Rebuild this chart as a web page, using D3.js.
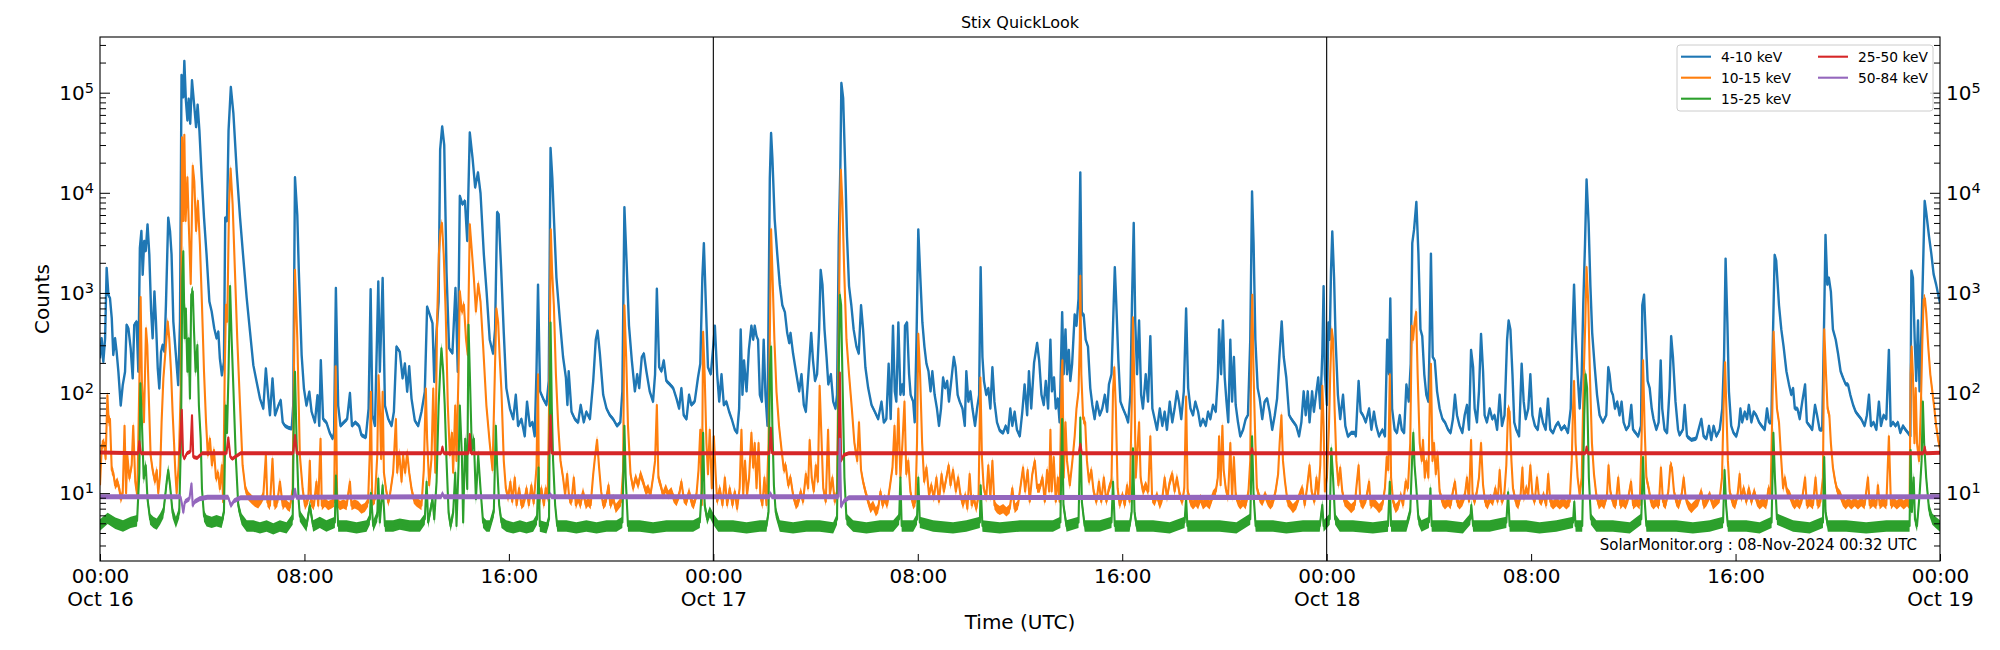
<!DOCTYPE html>
<html>
<head>
<meta charset="utf-8">
<script src="https://cdn.jsdelivr.net/npm/d3@7"></script>
<style>
body { margin: 0; background: #fff; }
text { font-family: "DejaVu Sans", sans-serif; fill: #000; }
</style>
</head>
<body>
<div id="chart"></div>
<script>
// hours since 2024-10-16 00:00 UTC, counts
var cts4to10 = [[0,222],[0.065,352],[0.13,205],[0.2,352],[0.26,1780],[0.33,950],[0.39,890],[0.46,560],[0.52,240],[0.59,352],[0.65,259],[0.72,163],[0.81,75],[0.89,120],[0.98,163],[1.04,480],[1.11,444],[1.2,280],[1.28,140],[1.34,480],[1.43,517],[1.5,163],[1.56,2820],[1.62,4150],[1.67,1520],[1.73,3300],[1.79,2620],[1.86,4840],[1.93,2420],[2.0,653],[2.06,352],[2.13,1036],[2.19,517],[2.26,176],[2.32,111],[2.39,259],[2.45,302],[2.52,259],[2.58,760],[2.67,5650],[2.74,4150],[2.8,2420],[2.87,517],[2.97,240],[3.06,120],[3.13,517],[3.19,150000],[3.26,90000],[3.3,208000],[3.36,84000],[3.42,52800],[3.47,87000],[3.53,48900],[3.6,133000],[3.68,77600],[3.76,45300],[3.82,76000],[3.89,41900],[3.98,14300],[4.07,5650],[4.17,2420],[4.28,820],[4.37,653],[4.47,444],[4.56,352],[4.63,411],[4.69,222],[4.77,150],[4.85,205],[4.9,5650],[4.97,5230],[5.03,41900],[5.12,114000],[5.22,62000],[5.35,16600],[5.48,5650],[5.61,2200],[5.74,890],[5.87,411],[6.0,190],[6.13,129],[6.26,88],[6.39,70],[6.49,176],[6.59,88],[6.65,60],[6.75,140],[6.85,60],[6.98,75],[7.07,85],[7.15,51],[7.24,47],[7.37,45],[7.5,44],[7.56,75],[7.63,14300],[7.72,6000],[7.78,1650],[7.89,240],[7.98,111],[8.08,75],[8.19,103],[8.28,65],[8.41,51],[8.51,95],[8.58,47],[8.64,213],[8.73,55],[8.86,51],[8.99,40],[9.1,35],[9.16,40],[9.23,1120],[9.32,75],[9.41,47],[9.54,51],[9.67,55],[9.78,100],[9.86,47],[9.99,51],[10.14,47],[10.23,38],[10.4,36],[10.51,70],[10.59,1090],[10.66,60],[10.76,47],[10.89,1300],[10.95,163],[11.06,1410],[11.15,75],[11.28,55],[11.41,47],[11.5,65],[11.6,290],[11.73,259],[11.84,140],[11.93,197],[12.02,103],[12.1,185],[12.19,88],[12.32,53],[12.45,47],[12.58,65],[12.71,103],[12.8,730],[12.91,600],[13.01,500],[13.08,129],[13.17,411],[13.25,820],[13.31,27000],[13.39,46000],[13.47,30000],[13.56,1600],[13.66,280],[13.79,250],[13.91,1120],[14.0,163],[14.08,9300],[14.18,7700],[14.28,8300],[14.37,3300],[14.47,40000],[14.58,22000],[14.68,11300],[14.79,16000],[14.89,9900],[15.02,2420],[15.13,1000],[15.25,341],[15.38,248],[15.46,432],[15.54,6400],[15.6,6100],[15.7,1670],[15.8,399],[15.9,112],[16.04,70],[16.17,55],[16.27,96],[16.36,47],[16.49,55],[16.62,37],[16.71,82],[16.82,47],[16.92,51],[17.01,37],[17.08,165],[17.14,1210],[17.22,104],[17.34,88],[17.47,76],[17.56,132],[17.63,28000],[17.7,14000],[17.77,5000],[17.86,1420],[17.99,550],[18.12,229],[18.23,143],[18.29,76],[18.34,165],[18.45,65],[18.58,55],[18.71,51],[18.81,76],[18.93,51],[19.03,65],[19.17,55],[19.3,132],[19.4,341],[19.47,420],[19.56,248],[19.69,96],[19.82,70],[19.95,60],[20.08,55],[20.23,47],[20.36,51],[20.44,104],[20.52,7200],[20.6,2200],[20.7,470],[20.81,212],[20.93,104],[21.02,154],[21.1,112],[21.2,229],[21.28,248],[21.38,165],[21.51,104],[21.64,82],[21.72,154],[21.79,1100],[21.88,181],[21.97,165],[22.06,212],[22.16,132],[22.3,122],[22.43,112],[22.56,88],[22.66,70],[22.75,112],[22.84,60],[22.95,55],[23.05,96],[23.14,76],[23.27,82],[23.4,143],[23.49,196],[23.57,1420],[23.63,3140],[23.7,880],[23.79,181],[23.9,154],[24.0,300],[24.06,470],[24.15,154],[24.23,82],[24.32,154],[24.41,76],[24.51,82],[24.62,65],[24.72,55],[24.84,43],[24.93,40],[25.01,70],[25.07,432],[25.14,96],[25.2,212],[25.3,104],[25.39,270],[25.49,470],[25.56,341],[25.62,470],[25.69,370],[25.75,341],[25.82,96],[25.9,82],[25.97,341],[26.04,96],[26.12,47],[26.21,14000],[26.26,39600],[26.31,22500],[26.4,5460],[26.5,2470],[26.6,1210],[26.7,753],[26.8,643],[26.89,399],[26.97,316],[27.02,399],[27.12,248],[27.25,154],[27.36,104],[27.45,154],[27.54,76],[27.62,65],[27.72,154],[27.83,399],[27.9,212],[27.98,132],[28.06,154],[28.14,432],[28.2,1700],[28.27,1210],[28.35,432],[28.43,229],[28.5,122],[28.6,154],[28.69,82],[28.78,70],[28.84,96],[28.91,3680],[28.97,17900],[29.01,125000],[29.08,88000],[29.16,17900],[29.23,3680],[29.31,1170],[29.4,753],[29.49,432],[29.6,291],[29.69,248],[29.78,753],[29.86,432],[29.95,181],[30.06,112],[30.19,76],[30.32,65],[30.45,55],[30.58,82],[30.67,51],[30.77,55],[30.86,196],[30.94,55],[31.03,470],[31.1,104],[31.16,82],[31.24,507],[31.32,96],[31.39,122],[31.45,96],[31.5,470],[31.58,507],[31.66,154],[31.72,96],[31.82,82],[31.88,51],[31.95,341],[32.02,4310],[32.1,1420],[32.18,507],[32.26,291],[32.34,196],[32.42,165],[32.5,104],[32.57,165],[32.66,96],[32.75,70],[32.83,47],[32.91,70],[32.99,143],[33.07,112],[33.15,132],[33.22,82],[33.31,132],[33.41,229],[33.48,181],[33.56,96],[33.64,82],[33.75,70],[33.84,47],[33.9,165],[33.98,82],[34.06,104],[34.14,70],[34.24,47],[34.32,70],[34.4,96],[34.46,1810],[34.53,229],[34.59,132],[34.68,96],[34.76,112],[34.84,70],[34.92,181],[35.0,82],[35.1,51],[35.21,42],[35.34,40],[35.44,47],[35.53,40],[35.62,70],[35.7,47],[35.79,65],[35.88,43],[35.99,37],[36.09,65],[36.18,122],[36.28,60],[36.35,165],[36.44,70],[36.55,200],[36.67,316],[36.75,212],[36.84,96],[36.93,76],[37.01,132],[37.1,70],[37.19,341],[37.25,104],[37.33,143],[37.4,70],[37.48,88],[37.55,51],[37.65,643],[37.71,154],[37.78,432],[37.84,154],[37.91,270],[37.97,132],[38.04,196],[38.14,610],[38.21,470],[38.29,880],[38.36,16000],[38.42,610],[38.49,610],[38.57,341],[38.66,291],[38.75,112],[38.83,76],[38.92,55],[39.01,82],[39.12,60],[39.22,70],[39.32,96],[39.41,65],[39.48,122],[39.58,154],[39.64,470],[39.71,1810],[39.77,753],[39.85,212],[39.93,82],[40.03,70],[40.14,60],[40.23,51],[40.32,96],[40.38,753],[40.45,5000],[40.51,507],[40.58,154],[40.66,530],[40.74,96],[40.81,70],[40.92,154],[41.01,82],[41.1,370],[41.18,70],[41.27,55],[41.36,43],[41.47,70],[41.57,47],[41.66,65],[41.75,43],[41.86,82],[41.96,51],[42.05,70],[42.14,104],[42.22,82],[42.31,55],[42.41,104],[42.5,700],[42.58,112],[42.67,70],[42.77,60],[42.86,82],[42.97,65],[43.06,47],[43.16,55],[43.27,47],[43.36,65],[43.45,55],[43.55,76],[43.66,65],[43.74,143],[43.79,432],[43.87,154],[43.94,530],[44.01,143],[44.08,82],[44.15,51],[44.23,341],[44.3,82],[44.37,229],[44.44,76],[44.53,51],[44.62,37],[44.73,43],[44.83,55],[44.92,60],[45.01,341],[45.08,10300],[45.14,3140],[45.21,341],[45.3,112],[45.38,88],[45.48,55],[45.57,82],[45.67,88],[45.77,65],[45.87,43],[45.97,60],[46.06,88],[46.15,229],[46.24,520],[46.32,229],[46.42,143],[46.53,60],[46.62,55],[46.71,51],[46.81,47],[46.92,37],[47.01,51],[47.1,104],[47.18,60],[47.26,104],[47.33,51],[47.43,104],[47.5,65],[47.6,104],[47.67,143],[47.75,70],[47.83,248],[47.88,1170],[47.93,154],[48.01,76],[48.07,507],[48.12,341],[48.17,1670],[48.22,4100],[48.29,1420],[48.35,341],[48.44,96],[48.53,55],[48.64,96],[48.73,47],[48.83,37],[48.96,40],[49.1,40],[49.14,37],[49.25,132],[49.33,65],[49.42,60],[49.53,51],[49.66,70],[49.75,43],[49.85,65],[49.94,47],[50.05,37],[50.18,43],[50.28,37],[50.37,341],[50.44,154],[50.49,880],[50.56,70],[50.66,43],[50.75,40],[50.86,60],[50.94,43],[51.03,40],[51.12,122],[51.21,82],[51.29,196],[51.35,3140],[51.42,4310],[51.51,8100],[51.59,2470],[51.67,432],[51.74,370],[51.82,154],[51.9,96],[51.98,82],[52.03,341],[52.08,2470],[52.15,229],[52.23,212],[52.32,104],[52.42,70],[52.53,55],[52.63,51],[52.75,43],[52.85,40],[52.94,55],[53.02,96],[53.1,60],[53.2,47],[53.31,40],[53.4,60],[53.49,76],[53.57,43],[53.65,270],[53.73,181],[53.79,70],[53.88,51],[53.96,104],[54.04,390],[54.12,165],[54.18,60],[54.27,51],[54.38,70],[54.48,55],[54.57,60],[54.67,43],[54.77,96],[54.86,47],[54.96,60],[55.06,341],[55.12,530],[55.19,432],[55.27,154],[55.34,51],[55.42,43],[55.53,37],[55.63,196],[55.71,82],[55.79,55],[55.89,70],[55.97,154],[56.05,60],[56.15,47],[56.26,43],[56.36,70],[56.46,51],[56.57,43],[56.66,88],[56.75,43],[56.86,40],[56.96,47],[57.06,51],[57.18,43],[57.31,47],[57.44,40],[57.55,70],[57.61,341],[57.68,1210],[57.74,399],[57.82,154],[57.9,70],[57.98,154],[58.04,753],[58.11,3140],[58.17,13600],[58.25,5000],[58.32,1170],[58.39,399],[58.49,181],[58.58,96],[58.68,60],[58.81,51],[58.94,60],[59.02,181],[59.07,154],[59.14,104],[59.2,96],[59.28,70],[59.37,82],[59.46,60],[59.54,82],[59.62,51],[59.72,43],[59.83,47],[59.92,76],[59.99,43],[60.09,40],[60.19,37],[60.3,47],[60.35,753],[60.42,960],[60.48,399],[60.56,132],[60.64,112],[60.72,70],[60.79,55],[60.9,43],[60.99,51],[61.07,212],[61.13,70],[61.22,43],[61.32,40],[61.42,112],[61.48,370],[61.55,229],[61.65,82],[61.75,43],[61.81,38],[61.94,43],[62.01,76],[62.1,37],[62.27,34],[62.46,35],[62.66,55],[62.75,37],[62.86,35],[62.96,47],[63.05,34],[63.14,47],[63.25,37],[63.38,43],[63.48,70],[63.55,229],[63.61,2200],[63.68,507],[63.74,104],[63.83,47],[63.92,40],[64.03,37],[64.13,47],[64.19,70],[64.26,51],[64.36,65],[64.45,55],[64.52,76],[64.62,51],[64.71,65],[64.81,60],[64.92,51],[65.02,47],[65.14,43],[65.23,70],[65.31,51],[65.4,51],[65.46,341],[65.53,2400],[65.59,2100],[65.7,753],[65.79,432],[65.88,291],[65.99,165],[66.09,122],[66.18,96],[66.25,112],[66.32,70],[66.42,70],[66.51,55],[66.61,82],[66.72,122],[66.79,51],[66.9,47],[67.0,43],[67.11,76],[67.19,60],[67.29,43],[67.39,43],[67.46,432],[67.52,3800],[67.59,1210],[67.65,1420],[67.73,1030],[67.81,432],[67.92,341],[68.01,248],[68.11,165],[68.2,143],[68.31,122],[68.4,122],[68.49,96],[68.6,76],[68.7,65],[68.8,60],[68.92,55],[69.05,47],[69.14,60],[69.22,96],[69.3,47],[69.4,51],[69.51,43],[69.61,82],[69.69,47],[69.79,60],[69.9,55],[70.0,270],[70.07,47],[70.16,51],[70.26,47],[70.35,51],[70.45,40],[70.55,47],[70.65,43],[70.75,40],[70.84,37],[70.88,1670],[70.94,1420],[71.01,341],[71.07,132],[71.14,530],[71.2,104],[71.28,470],[71.35,2470],[71.4,8300],[71.46,6400],[71.57,3680],[71.66,2470],[71.75,1540],[71.85,1210],[71.96,880],[72.0,800]];

var cts10to15 = [[0,12],[0.07,30],[0.16,32],[0.22,22],[0.29,95],[0.34,51],[0.39,55],[0.46,17],[0.52,16],[0.59,12],[0.68,13],[0.76,11],[0.81,8.7],[0.89,10],[0.96,47],[1.02,10],[1.07,24],[1.15,14],[1.24,19],[1.3,47],[1.38,13],[1.46,9.4],[1.54,129],[1.59,910],[1.64,129],[1.72,51],[1.8,444],[1.85,302],[1.92,75],[1.98,24],[2.06,17],[2.15,13],[2.22,17],[2.28,10],[2.35,15],[2.41,51],[2.48,140],[2.56,259],[2.65,517],[2.71,352],[2.78,163],[2.84,65],[2.89,35],[2.95,16],[3.0,10],[3.08,19],[3.16,111],[3.21,35900],[3.26,5230],[3.3,38000],[3.35,5230],[3.42,14300],[3.47,5230],[3.55,1230],[3.63,18600],[3.69,13000],[3.76,4150],[3.83,8300],[3.91,3050],[3.99,760],[4.07,163],[4.15,51],[4.22,24],[4.3,35],[4.38,19],[4.46,27],[4.54,14],[4.62,16],[4.69,11],[4.77,19],[4.82,8.1],[4.88,163],[4.93,760],[4.98,517],[5.05,7690],[5.11,17500],[5.19,7690],[5.28,1650],[5.37,352],[5.48,75],[5.58,19],[5.69,11],[5.8,9.4],[5.93,8.7],[6.06,8.1],[6.19,7.8],[6.32,8.7],[6.39,9.4],[6.49,24],[6.55,8.1],[6.65,7.5],[6.75,22],[6.83,7.5],[6.94,8.1],[7.04,13],[7.15,7.5],[7.24,8.1],[7.33,7.5],[7.43,7.2],[7.54,11],[7.59,163],[7.63,1700],[7.72,352],[7.82,24],[7.93,11],[8.02,7.5],[8.15,8.7],[8.21,21],[8.26,8.1],[8.37,7.5],[8.47,13],[8.54,7.5],[8.63,35],[8.68,7.5],[8.8,8.1],[8.93,7.5],[9.06,7.8],[9.16,8.1],[9.22,185],[9.28,8.1],[9.39,7.5],[9.52,7.8],[9.65,7.5],[9.78,13],[9.84,7.5],[9.97,7.8],[10.1,7.5],[10.23,6.9],[10.36,7.2],[10.49,8.1],[10.56,27],[10.6,103],[10.65,8.1],[10.76,8.7],[10.85,24],[10.9,150],[10.95,75],[11.0,22],[11.06,103],[11.11,16],[11.19,11],[11.28,8.1],[11.34,9.4],[11.47,16],[11.58,55],[11.63,16],[11.71,25.6],[11.8,13],[11.86,24],[11.94,16],[12.02,25.6],[12.1,16],[12.19,11],[12.28,8.7],[12.39,8.1],[12.49,7.8],[12.58,7.5],[12.67,17],[12.75,111],[12.8,35],[12.88,12],[12.97,22],[13.04,111],[13.12,16],[13.19,517],[13.26,2420],[13.32,4150],[13.38,5000],[13.45,2420],[13.53,600],[13.61,75],[13.69,24],[13.77,40],[13.82,16],[13.9,75],[13.95,21],[14.03,163],[14.08,1036],[14.16,653],[14.24,760],[14.32,352],[14.39,240],[14.47,4840],[14.55,2620],[14.63,1400],[14.71,653],[14.8,1230],[14.89,820],[14.99,302],[15.12,75],[15.25,31.6],[15.36,17],[15.45,154],[15.51,700],[15.58,507],[15.64,229],[15.71,104],[15.8,21],[15.88,11.2],[15.97,8.9],[16.06,13],[16.13,8.2],[16.23,14.3],[16.3,7.6],[16.4,11.2],[16.49,7.6],[16.6,8.2],[16.69,11.2],[16.78,7.6],[16.88,12],[16.97,7.9],[17.08,18],[17.14,154],[17.18,7.6],[17.27,11.2],[17.37,7.6],[17.44,11.2],[17.52,8.9],[17.59,154],[17.64,4310],[17.69,1670],[17.76,753],[17.84,154],[17.93,47],[18.02,21],[18.12,14.3],[18.2,9.6],[18.28,15.5],[18.36,8.9],[18.45,8.2],[18.54,14.3],[18.62,7.6],[18.71,8.9],[18.8,7.6],[18.9,10.4],[19.01,7.6],[19.1,8.2],[19.2,7.6],[19.3,15.5],[19.37,23],[19.45,34],[19.53,18],[19.61,10.4],[19.69,7.6],[19.79,8.2],[19.9,12],[19.97,7.6],[20.08,8.9],[20.18,7.0],[20.29,7.6],[20.39,8.2],[20.47,17],[20.52,753],[20.59,229],[20.66,47],[20.76,15.5],[20.86,11.2],[20.96,14.3],[21.06,12],[21.15,15.5],[21.25,13],[21.36,10.4],[21.45,11.2],[21.54,9.6],[21.64,14.3],[21.72,21],[21.79,76],[21.85,14.3],[21.94,12],[22.03,9.6],[22.14,11.2],[22.24,9.6],[22.36,10.4],[22.45,8.9],[22.56,8.2],[22.66,9.6],[22.75,13],[22.84,8.9],[22.95,8.2],[23.05,10.4],[23.14,8.2],[23.23,7.6],[23.34,9.6],[23.42,17],[23.49,43],[23.55,7.6],[23.6,410],[23.66,154],[23.73,31.6],[23.79,15.5],[23.86,43],[23.94,11.2],[24.02,37],[24.09,15.5],[24.15,8.2],[24.25,11.2],[24.36,7.6],[24.45,14.3],[24.54,7.6],[24.64,11.2],[24.75,7.6],[24.84,10.4],[24.93,7.0],[25.03,11.2],[25.1,43],[25.17,9.6],[25.24,21],[25.32,9.6],[25.4,14.3],[25.49,40],[25.56,18],[25.62,31.6],[25.69,11.2],[25.77,31.6],[25.84,9.6],[25.92,7.6],[26.0,14.3],[26.08,7.6],[26.16,31.6],[26.21,341],[26.26,4310],[26.31,1670],[26.39,341],[26.47,104],[26.57,47],[26.67,27],[26.76,17],[26.83,19],[26.93,12],[27.02,14.3],[27.12,9.6],[27.23,7.6],[27.33,8.2],[27.42,10.4],[27.51,8.2],[27.62,15.5],[27.71,11.2],[27.77,34],[27.85,14.3],[27.93,10.4],[28.01,19],[28.09,13],[28.16,118],[28.23,37],[28.3,11.2],[28.4,8.2],[28.49,43],[28.56,9.6],[28.66,14.3],[28.75,8.2],[28.84,10.4],[28.89,154],[28.95,3680],[28.99,17000],[29.05,8100],[29.12,1670],[29.21,341],[29.31,154],[29.42,70],[29.52,31.6],[29.63,21],[29.7,51],[29.78,17],[29.86,13],[29.95,10.4],[30.06,8.2],[30.15,7.0],[30.25,7.6],[30.36,6.5],[30.45,7.0],[30.54,10.4],[30.62,7.6],[30.71,8.9],[30.8,7.6],[30.9,11.2],[31.01,18],[31.09,47],[31.16,15.5],[31.24,70],[31.32,14.3],[31.4,31.6],[31.48,82],[31.55,15.5],[31.63,21],[31.71,10.4],[31.82,7.6],[31.91,8.2],[31.97,31.6],[32.02,390],[32.09,154],[32.17,31.6],[32.25,13],[32.34,18],[32.44,9.6],[32.53,12],[32.63,8.9],[32.73,14.3],[32.83,8.2],[32.93,15.5],[33.02,10.4],[33.12,14.3],[33.21,19],[33.28,12],[33.38,17],[33.49,10.4],[33.58,14.3],[33.67,9.6],[33.77,7.6],[33.86,9.6],[33.94,7.0],[34.03,15.5],[34.11,7.6],[34.19,8.9],[34.29,7.0],[34.38,9.6],[34.45,143],[34.51,23],[34.58,11.2],[34.68,8.9],[34.76,19],[34.84,8.9],[34.92,21],[35.0,7.6],[35.1,7.0],[35.21,6.7],[35.34,7.0],[35.47,6.5],[35.6,7.0],[35.7,11.2],[35.79,7.0],[35.92,7.6],[36.01,11.2],[36.12,18],[36.2,10.4],[36.3,17],[36.38,8.2],[36.48,15.5],[36.58,21],[36.67,11.2],[36.77,11.2],[36.88,14.3],[36.97,8.2],[37.06,17],[37.14,10.4],[37.19,43],[37.24,10.4],[37.32,23],[37.4,8.2],[37.48,14.3],[37.55,8.2],[37.63,154],[37.66,212],[37.71,14.3],[37.78,51],[37.84,21],[37.95,12],[38.05,21],[38.14,37],[38.21,70],[38.29,104],[38.34,341],[38.36,1480],[38.4,154],[38.47,55],[38.55,51],[38.62,21],[38.7,13],[38.79,17],[38.88,10.4],[38.99,8.2],[39.09,13],[39.18,8.2],[39.28,14.3],[39.38,8.2],[39.48,11.2],[39.58,13],[39.64,104],[39.69,181],[39.75,70],[39.82,11.2],[39.9,7.6],[40.01,9.6],[40.1,7.6],[40.19,12],[40.29,8.2],[40.37,70],[40.42,570],[40.48,104],[40.53,14.3],[40.61,31.6],[40.66,51],[40.72,14.3],[40.81,10.4],[40.92,12],[41.02,10.4],[41.1,37],[41.17,8.9],[41.27,8.2],[41.36,9.6],[41.47,7.6],[41.57,8.9],[41.66,14.3],[41.75,8.9],[41.86,13],[41.96,15.5],[42.05,10.4],[42.14,14.3],[42.25,9.6],[42.35,8.2],[42.43,11.2],[42.5,92],[42.56,10.4],[42.67,8.2],[42.77,7.6],[42.88,8.2],[42.97,7.6],[43.06,8.9],[43.16,7.6],[43.29,8.2],[43.42,7.6],[43.55,9.6],[43.66,10.4],[43.74,14.3],[43.79,37],[43.85,12],[43.92,47],[43.97,17],[44.05,11.2],[44.14,8.9],[44.23,31.6],[44.3,8.9],[44.37,23],[44.44,9.6],[44.53,8.2],[44.62,7.6],[44.73,8.2],[44.83,7.6],[44.94,10.4],[45.01,21],[45.05,341],[45.09,960],[45.14,154],[45.21,31.6],[45.27,11.2],[45.38,8.9],[45.48,8.2],[45.59,9.6],[45.7,8.2],[45.8,7.6],[45.9,8.2],[46.0,10.4],[46.1,15.5],[46.16,31.6],[46.23,60],[46.29,21],[46.37,13],[46.47,8.2],[46.58,7.6],[46.68,7.0],[46.81,7.6],[46.94,9.6],[47.05,11.2],[47.14,7.6],[47.23,11.2],[47.33,19],[47.41,10.4],[47.52,8.2],[47.6,14.3],[47.67,9.6],[47.75,19],[47.83,118],[47.88,47],[47.93,10.4],[48.01,14.3],[48.09,47],[48.14,154],[48.2,432],[48.25,341],[48.31,70],[48.38,21],[48.46,12],[48.53,18],[48.61,10.4],[48.7,8.2],[48.83,7.6],[48.96,7.0],[49.1,7.6],[49.16,11.2],[49.25,19],[49.32,8.2],[49.42,7.6],[49.55,8.9],[49.66,13],[49.72,7.6],[49.81,8.2],[49.94,7.6],[50.05,7.0],[50.18,7.6],[50.28,11.2],[50.35,23],[50.41,17],[50.47,154],[50.52,14.3],[50.6,8.2],[50.7,7.0],[50.81,7.6],[50.9,9.6],[50.99,7.6],[51.09,13],[51.18,11.2],[51.27,31.6],[51.33,470],[51.38,341],[51.44,507],[51.5,643],[51.56,154],[51.64,31.6],[51.72,21],[51.77,34],[51.84,14.3],[51.9,21],[51.98,14.3],[52.03,70],[52.08,196],[52.14,21],[52.2,31.6],[52.27,15.5],[52.34,25],[52.42,10.4],[52.53,8.2],[52.63,7.6],[52.75,8.2],[52.85,7.6],[52.94,10.4],[53.02,13],[53.1,8.2],[53.2,7.6],[53.31,8.2],[53.41,9.6],[53.49,14.3],[53.57,8.2],[53.65,34],[53.71,9.6],[53.79,8.2],[53.88,10.4],[53.96,14.3],[54.04,31.6],[54.12,12],[54.2,8.2],[54.3,7.6],[54.4,8.9],[54.51,8.2],[54.6,11.2],[54.69,8.2],[54.77,17],[54.85,8.2],[54.95,9.6],[55.03,19],[55.1,70],[55.16,65],[55.23,21],[55.29,11.2],[55.4,8.2],[55.5,7.6],[55.59,9.6],[55.66,18],[55.71,8.9],[55.81,11.2],[55.89,9.6],[55.97,19],[56.05,9.6],[56.14,8.2],[56.23,14.3],[56.31,8.9],[56.4,8.2],[56.49,9.6],[56.59,7.6],[56.67,15.5],[56.75,8.2],[56.86,7.6],[56.99,8.2],[57.12,7.6],[57.25,8.2],[57.38,7.6],[57.51,8.2],[57.59,21],[57.64,70],[57.68,132],[57.74,31.6],[57.82,14.3],[57.9,9.6],[57.98,14.3],[58.06,154],[58.12,507],[58.17,1810],[58.24,753],[58.3,154],[58.38,31.6],[58.46,15.5],[58.55,9.6],[58.65,7.6],[58.76,8.2],[58.86,7.6],[58.97,9.6],[59.03,19],[59.1,10.4],[59.2,8.2],[59.31,7.6],[59.41,14.3],[59.49,7.6],[59.59,8.2],[59.7,7.6],[59.8,8.9],[59.91,13],[59.99,7.6],[60.12,8.2],[60.25,7.6],[60.32,31.6],[60.38,212],[60.44,47],[60.51,14.3],[60.6,11.2],[60.69,8.2],[60.79,7.6],[60.9,8.2],[61.0,7.6],[61.08,18],[61.16,8.2],[61.26,7.6],[61.37,10.4],[61.45,19],[61.51,18],[61.59,10.4],[61.68,8.2],[61.78,7.6],[61.89,9.6],[61.97,14.3],[62.05,8.9],[62.15,7.6],[62.27,7.0],[62.4,7.6],[62.53,8.2],[62.66,10.4],[62.75,7.6],[62.86,8.2],[62.99,9.6],[63.12,7.6],[63.25,8.2],[63.38,8.9],[63.47,14.3],[63.53,70],[63.59,203],[63.64,70],[63.7,21],[63.77,10.4],[63.87,8.2],[63.98,7.6],[64.08,9.6],[64.16,15.5],[64.22,8.9],[64.32,11.2],[64.42,8.2],[64.52,11.2],[64.62,8.2],[64.73,10.4],[64.84,8.2],[64.94,7.6],[65.07,8.2],[65.2,7.6],[65.29,11.2],[65.37,9.6],[65.44,70],[65.49,410],[65.55,165],[65.62,70],[65.7,51],[65.78,23],[65.86,11.2],[65.93,14.3],[66.01,10.4],[66.12,9.6],[66.22,8.2],[66.31,7.6],[66.4,8.2],[66.51,7.6],[66.61,8.9],[66.72,14.3],[66.79,7.6],[66.9,8.2],[67.03,7.6],[67.13,14.3],[67.21,7.6],[67.32,8.2],[67.42,14.3],[67.47,432],[67.54,154],[67.6,70],[67.67,60],[67.73,31.6],[67.81,18],[67.9,13],[67.99,10.4],[68.1,9.6],[68.2,8.2],[68.31,7.6],[68.41,8.2],[68.53,7.6],[68.66,8.2],[68.79,7.6],[68.92,8.2],[69.05,7.6],[69.18,14.3],[69.25,7.6],[69.38,8.2],[69.51,7.6],[69.57,12],[69.64,7.6],[69.77,8.2],[69.9,7.6],[70.0,37],[70.08,7.6],[70.18,8.2],[70.31,7.6],[70.45,8.2],[70.58,7.6],[70.71,8.2],[70.81,7.6],[70.85,154],[70.89,291],[70.94,154],[71.0,31.6],[71.05,112],[71.1,31.6],[71.18,21],[71.25,70],[71.31,341],[71.36,860],[71.41,880],[71.46,640],[71.54,291],[71.62,154],[71.7,104],[71.78,70],[71.85,47],[71.93,34],[72.0,28]];

var cts15to25 = [[0,4.8],[0.3,5.6],[0.6,5.0],[0.9,4.7],[1.2,5.1],[1.45,5.3],[1.54,16],[1.58,125],[1.64,51],[1.71,14],[1.79,19],[1.86,8.7],[1.96,5.5],[2.09,5.1],[2.22,4.9],[2.35,5.5],[2.48,6.4],[2.61,13],[2.67,17],[2.74,12],[2.84,6.4],[2.97,5.1],[3.1,6.4],[3.17,35],[3.22,1400],[3.26,2610],[3.31,352],[3.36,700],[3.42,163],[3.47,352],[3.52,88],[3.57,960],[3.63,1036],[3.68,411],[3.74,163],[3.81,302],[3.87,75],[3.94,35],[3.99,11],[4.07,5.9],[4.17,5.3],[4.37,5.1],[4.56,5.3],[4.76,5.1],[4.85,6.4],[4.92,75],[4.97,40],[5.03,163],[5.09,1170],[5.15,352],[5.22,111],[5.31,24],[5.41,7.5],[5.54,5.5],[5.74,4.7],[6.0,4.7],[6.26,4.5],[6.52,4.7],[6.78,4.4],[7.04,4.7],[7.3,4.5],[7.54,5.5],[7.59,75],[7.63,163],[7.69,35],[7.77,8.7],[7.82,5.9],[8.08,4.7],[8.21,7.5],[8.34,4.7],[8.6,5.1],[8.86,4.7],[9.19,5.1],[9.23,15],[9.32,4.7],[9.65,4.7],[10.04,4.5],[10.43,4.7],[10.56,5.5],[10.6,10],[10.69,4.7],[10.85,5.9],[10.89,14],[10.95,5.1],[11.06,12],[11.15,4.7],[11.47,4.7],[11.73,4.9],[12.12,4.7],[12.52,4.7],[12.71,5.5],[12.78,13],[12.84,5.1],[13.01,8.7],[13.08,5.5],[13.17,13],[13.25,75],[13.31,163],[13.36,280],[13.43,163],[13.49,75],[13.56,21],[13.64,6.4],[13.72,4.7],[13.82,6.4],[13.9,16],[13.95,4.7],[14.03,19],[14.08,75],[14.16,24],[14.21,5.1],[14.29,35],[14.37,11],[14.42,480],[14.47,163],[14.55,27],[14.63,35],[14.71,8.7],[14.8,24],[14.89,11],[14.99,5.1],[15.12,4.7],[15.25,4.7],[15.41,6.5],[15.49,47],[15.54,19],[15.62,7.6],[15.71,5.1],[15.9,4.7],[16.17,4.5],[16.43,4.7],[16.69,4.5],[16.95,4.7],[17.1,5.5],[17.16,18],[17.21,4.7],[17.47,4.5],[17.57,5.5],[17.63,507],[17.68,70],[17.73,21],[17.81,7.6],[17.89,4.7],[18.25,4.7],[18.64,4.5],[19.03,4.7],[19.43,4.5],[19.82,4.7],[20.21,4.7],[20.44,5.1],[20.52,47],[20.57,14.3],[20.66,4.7],[21.12,4.7],[21.64,4.5],[22.16,4.7],[22.69,4.7],[23.21,4.7],[23.47,5.1],[23.55,11.2],[23.6,40],[23.66,7.6],[23.76,5.5],[23.86,6.5],[24.0,5.5],[24.19,4.7],[24.77,4.7],[25.3,4.5],[25.82,4.7],[26.08,4.7],[26.16,6.5],[26.21,154],[26.26,291],[26.31,47],[26.37,12],[26.44,6.5],[26.6,4.7],[27.12,4.5],[27.64,4.7],[28.16,4.7],[28.69,4.5],[28.84,5.5],[28.89,70],[28.95,950],[29.0,753],[29.05,154],[29.13,14.3],[29.21,5.5],[29.47,4.7],[29.99,4.5],[30.52,4.7],[31.04,4.7],[31.27,5.5],[31.32,14.3],[31.37,4.7],[31.82,4.7],[31.97,5.5],[32.02,14.3],[32.08,5.1],[32.6,4.7],[33.38,4.5],[33.9,4.7],[34.43,5.1],[34.46,12],[34.53,4.7],[35.21,4.5],[35.99,4.7],[36.77,4.7],[37.29,4.7],[37.58,5.1],[37.65,55],[37.7,7.6],[37.82,4.7],[38.29,5.1],[38.34,21],[38.36,57],[38.42,8.2],[38.53,4.7],[39.12,4.7],[39.58,5.1],[39.64,13],[39.71,4.7],[40.29,4.7],[40.37,6.5],[40.42,28],[40.48,6.5],[40.56,4.7],[41.21,4.7],[41.86,4.5],[42.44,5.1],[42.5,8.9],[42.55,4.7],[43.16,4.7],[43.81,4.7],[44.47,4.5],[45.01,5.5],[45.08,37],[45.14,9.6],[45.22,4.7],[45.9,4.7],[46.42,4.5],[47.07,4.7],[47.73,4.7],[47.83,7.6],[47.88,4.7],[48.12,5.5],[48.18,28],[48.25,14.3],[48.33,5.5],[48.51,4.7],[49.03,4.7],[49.81,4.5],[50.4,4.7],[50.47,13],[50.52,4.7],[51.12,4.7],[51.27,6.5],[51.34,21],[51.39,40],[51.44,19],[51.51,11.2],[51.59,5.5],[51.71,4.7],[52.0,5.1],[52.06,11.2],[52.11,4.7],[52.68,4.7],[53.33,4.5],[53.62,5.5],[53.66,7.6],[53.73,4.7],[54.38,4.7],[55.03,5.1],[55.1,10.2],[55.16,4.7],[55.81,4.7],[56.33,4.5],[56.99,4.7],[57.64,5.1],[57.69,8.2],[57.74,4.7],[58.0,4.7],[58.08,60],[58.13,154],[58.19,112],[58.26,14.3],[58.34,5.5],[58.55,4.7],[59.2,4.7],[59.86,4.5],[60.31,5.5],[60.38,23],[60.43,9.6],[60.51,4.7],[61.16,4.7],[61.68,4.7],[62.33,4.5],[62.99,4.7],[63.51,5.1],[63.57,17],[63.63,7.6],[63.7,4.7],[64.42,4.7],[64.94,4.5],[65.41,5.1],[65.48,40],[65.54,14.3],[65.62,5.5],[66.25,4.7],[66.9,4.5],[67.42,5.1],[67.47,23],[67.52,6.5],[67.61,4.7],[68.33,4.7],[69.11,4.5],[69.9,4.7],[70.68,4.7],[70.81,4.7],[70.85,27],[70.9,6.5],[70.97,14.3],[71.02,5.5],[71.1,4.7],[71.2,9.6],[71.28,21],[71.33,82],[71.38,31.6],[71.46,14.3],[71.57,6.9],[71.7,5.5],[71.83,5.1],[72.0,4.7]];

var cts25to50 = [[0,25.5],[1.5,25],[1.54,33],[1.6,25],[3.12,25],[3.2,68],[3.25,24],[3.3,22],[3.4,25],[3.54,26],[3.6,60],[3.65,23],[3.8,22.5],[4.0,25],[4.95,25],[5.02,36],[5.1,23],[5.18,22],[5.5,25],[7.56,25],[7.63,38],[7.7,25],[13.35,25],[13.4,29],[13.45,25],[14.42,25],[14.47,39],[14.52,25],[17.58,25],[17.63,60],[17.68,25],[26.2,25],[26.25,45],[26.3,25],[28.9,25],[28.95,160],[29.0,21],[29.1,24],[29.3,25],[38.3,25],[38.36,31],[38.42,25],[45.04,25],[45.08,28],[45.12,25],[58.13,25],[58.17,29],[58.21,25],[71.36,25],[71.4,29],[71.45,25],[72,25.3]];

var cts50to84 = [[0,9.2],[3.15,9.2],[3.2,8.0],[3.26,6.4],[3.32,8.2],[3.5,8.8],[3.58,12.5],[3.63,7.5],[3.7,8.2],[3.9,8.8],[4.2,9.1],[5.02,9.1],[5.12,7.5],[5.25,8.4],[5.5,9.0],[7.58,9.0],[7.63,11],[7.68,9.1],[13.36,9.2],[13.4,10],[13.45,9.2],[17.6,9.2],[17.63,9.8],[17.66,9.2],[26.2,9.2],[26.24,10],[26.28,9.2],[28.9,9.2],[28.95,35],[29.0,7.3],[29.1,8.3],[29.3,9.0],[72,9.2]];

var series = [
  {label: "4-10 keV",  data: cts4to10,  color: "#1f77b4", band: 1.05, lw: 2.4},
  {label: "10-15 keV", data: cts10to15, color: "#ff7f0e", band: 1.11, lw: 2.1},
  {label: "15-25 keV", data: cts15to25, color: "#2ca02c", band: 1.14, lw: 2.1},
  {label: "25-50 keV", data: cts25to50, color: "#d62728", band: 1.047, lw: 2.1},
  {label: "50-84 keV", data: cts50to84, color: "#9467bd", band: 1.06, lw: 2.1}
];

var tickHours = [0, 8, 16, 24, 32, 40, 48, 56, 64, 72];
var dayNames = ["Oct 16", "Oct 17", "Oct 18", "Oct 19"];
var dayLines = [24, 48];
var majorCounts = [10, 100, 1000, 10000, 100000];

// margin
var margin = {top: 37, right: 60, bottom: 89, left: 100},
    width = 2000 - margin.left - margin.right,
    height = 650 - margin.top - margin.bottom;

var t0 = Date.UTC(2024, 9, 16);
function tm(h) { return new Date(t0 + h * 3600e3); }

var svg = d3.select("#chart").append("svg")
    .attr("width", 2000)
    .attr("height", 650);

var g = svg.append("g")
    .attr("transform", "translate(" + margin.left + "," + margin.top + ")");

var x = d3.scaleUtc().domain([tm(0), tm(72)]).range([0, width]);
var y = d3.scaleLog().domain([2.1, 3.6e5]).range([height, 0]);

g.append("clipPath").attr("id", "clip")
  .append("rect").attr("width", width).attr("height", height);

var plot = g.append("g").attr("clip-path", "url(#clip)");

// each series: thin noise band + the line itself
series.forEach(function(s) {
  var band = d3.area()
      .x(function(d) { return x(tm(d[0])); })
      .y0(function(d) { return y(d[1] / s.band); })
      .y1(function(d) { return y(d[1] * s.band); });
  var line = d3.line()
      .x(function(d) { return x(tm(d[0])); })
      .y(function(d) { return y(d[1]); });
  plot.append("path")
      .attr("d", band(s.data))
      .attr("fill", s.color);
  plot.append("path")
      .attr("d", line(s.data))
      .attr("fill", "none")
      .attr("stroke", s.color)
      .attr("stroke-width", s.lw)
      .attr("stroke-linejoin", "round");
});

// day boundaries
g.selectAll(".dayline")
    .data(dayLines)
  .enter().append("line")
    .attr("x1", function(d) { return x(tm(d)); })
    .attr("x2", function(d) { return x(tm(d)); })
    .attr("y1", 0).attr("y2", height)
    .attr("stroke", "#000").attr("stroke-width", 1.1);

// minor y ticks
var minorCounts = [];
for (var e = 0; e <= 5; e++) {
  for (var k = 2; k <= 9; k++) {
    var v = k * Math.pow(10, e);
    if (v > 2.1 && v < 3.6e5) minorCounts.push(v);
  }
}

function supLabels(sel) {
  sel.selectAll(".tick text").each(function(d) {
    var t = d3.select(this).text(null);
    t.append("tspan").text("10");
    t.append("tspan").attr("dy", "-0.48em").attr("font-size", 14.5)
      .text(Math.round(Math.log10(d)));
  });
}

var yl = g.append("g")
    .call(d3.axisLeft(y).tickValues(majorCounts).tickSize(-10).tickPadding(6).tickFormat(""))
    .attr("font-size", 20).attr("font-family", "DejaVu Sans");
supLabels(yl);
g.append("g")
    .call(d3.axisLeft(y).tickValues(minorCounts).tickSize(-6).tickFormat(""));

var yr = g.append("g")
    .attr("transform", "translate(" + width + ",0)")
    .call(d3.axisRight(y).tickValues(majorCounts).tickSize(-10).tickPadding(6).tickFormat(""))
    .attr("font-size", 20).attr("font-family", "DejaVu Sans");
supLabels(yr);
g.append("g")
    .attr("transform", "translate(" + width + ",0)")
    .call(d3.axisRight(y).tickValues(minorCounts).tickSize(-6).tickFormat(""));

// x axis, two-line labels at midnight
var xa = g.append("g")
    .attr("transform", "translate(0," + height + ")")
    .call(d3.axisBottom(x).tickValues(tickHours.map(tm)).tickSize(-7).tickFormat(d3.utcFormat("%H:%M")))
    .attr("font-size", 20).attr("font-family", "DejaVu Sans");
xa.selectAll(".tick text").each(function(d, i) {
  var t = d3.select(this);
  var lab = t.text();
  t.text(null).attr("y", 0).attr("dy", null);
  t.append("tspan").attr("x", 0).attr("y", 21.5).text(lab);
  if (tickHours[i] % 24 === 0) {
    t.append("tspan").attr("x", 0).attr("y", 45).text(dayNames[tickHours[i] / 24]);
  }
});

g.selectAll(".domain").remove();
g.selectAll(".tick line").attr("stroke", "#000").attr("stroke-width", 1);

g.append("rect")
    .attr("width", width).attr("height", height)
    .attr("fill", "none").attr("stroke", "#000").attr("stroke-width", 1.1);

// labels
svg.append("text")
    .attr("x", margin.left + width / 2).attr("y", 28)
    .attr("text-anchor", "middle").style("font-size", "16px")
    .text("Stix QuickLook");

svg.append("text")
    .attr("transform", "translate(42," + (margin.top + height / 2) + ") rotate(-90)")
    .attr("text-anchor", "middle").attr("dy", "0.35em").style("font-size", "20px")
    .text("Counts");

svg.append("text")
    .attr("x", margin.left + width / 2).attr("y", 629)
    .attr("text-anchor", "middle").style("font-size", "20px")
    .text("Time (UTC)");

svg.append("text")
    .attr("x", 1917).attr("y", 550)
    .attr("text-anchor", "end").style("font-size", "15px")
    .text("SolarMonitor.org : 08-Nov-2024 00:32 UTC");

// legend, two columns
var leg = svg.append("g");
leg.append("rect")
    .attr("x", 1677).attr("y", 45).attr("width", 256).attr("height", 66)
    .attr("rx", 3).attr("fill", "#fff").attr("fill-opacity", 0.8)
    .attr("stroke", "#cccccc").attr("stroke-width", 1);
series.forEach(function(s, i) {
  var col = i < 3 ? 0 : 1, row = i < 3 ? i : i - 3;
  var lx = col === 0 ? 1681 : 1818;
  var ly = 56.7 + row * 21;
  leg.append("line")
      .attr("x1", lx).attr("x2", lx + 30).attr("y1", ly).attr("y2", ly)
      .attr("stroke", s.color).attr("stroke-width", 2.1);
  leg.append("text")
      .attr("x", lx + 40).attr("y", ly).attr("dy", "0.36em")
      .style("font-size", "13.8px")
      .text(s.label);
});
</script>
</body>
</html>
